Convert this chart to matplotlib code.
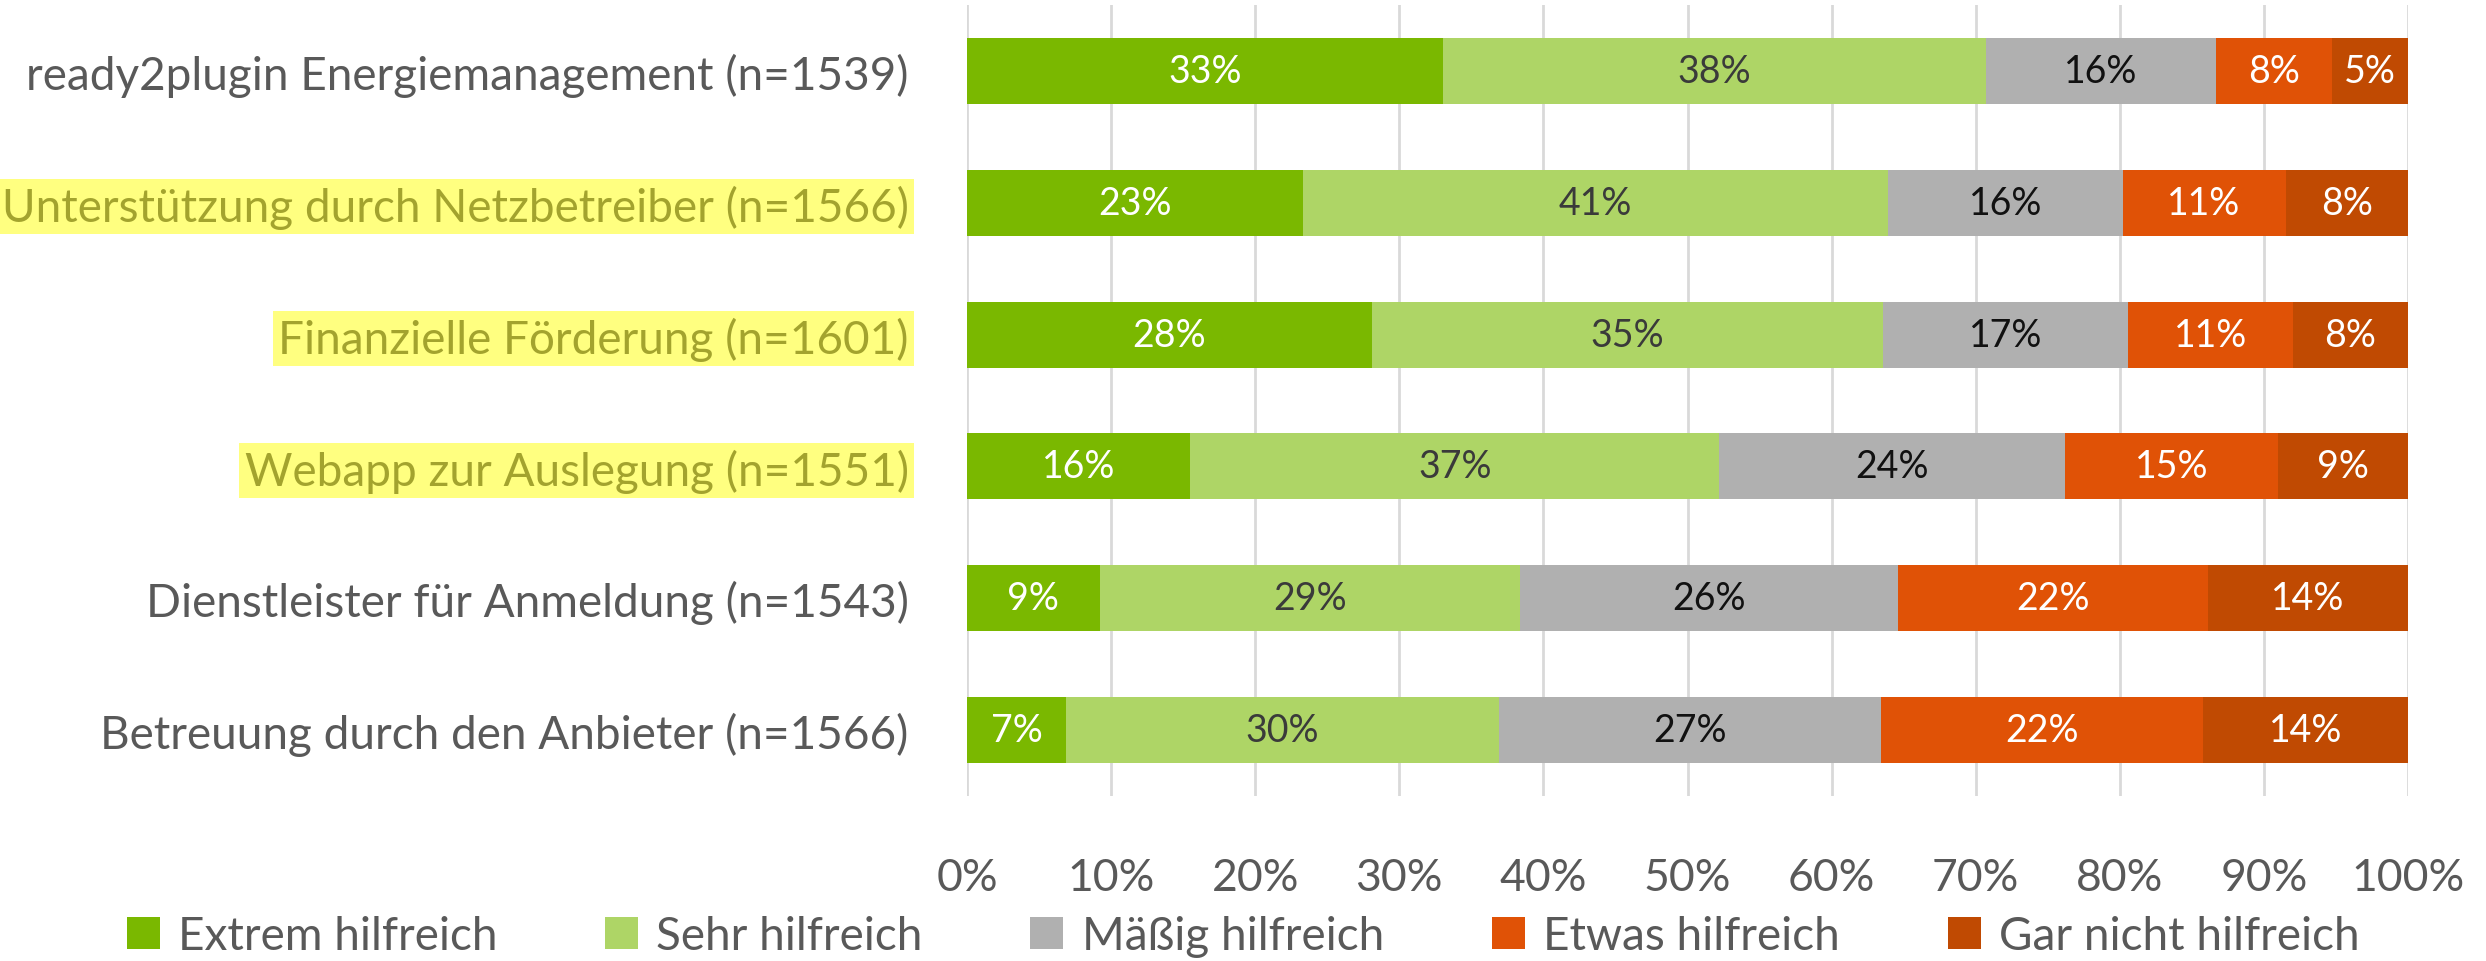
import matplotlib
matplotlib.use("Agg")
import matplotlib.pyplot as plt
from matplotlib.patches import Patch
import numpy as np

plt.rcParams['font.family'] = ['Lato', 'DejaVu Sans']

categories = [
    "ready2plugin Energiemanagement (n=1539)",
    "Unterstützung durch Netzbetreiber (n=1566)",
    "Finanzielle Förderung (n=1601)",
    "Webapp zur Auslegung (n=1551)",
    "Dienstleister für Anmeldung (n=1543)",
    "Betreuung durch den Anbieter (n=1566)",
]
highlighted = [False, True, True, True, False, False]
series_names = ["Extrem hilfreich", "Sehr hilfreich", "Mäßig hilfreich",
                "Etwas hilfreich", "Gar nicht hilfreich"]
extrem = [33.0, 23.3, 28.1, 15.5, 9.2, 6.9]
sehr = [37.7, 40.6, 35.5, 36.7, 29.2, 30.0]
maessig = [16.0, 16.3, 17.0, 24.0, 26.2, 26.5]
etwas = [8.0, 11.3, 11.4, 14.8, 21.5, 22.4]
gar_nicht = [5.3, 8.5, 8.0, 9.0, 13.9, 14.2]
shown_labels = [
    [33, 38, 16, 8, 5],
    [23, 41, 16, 11, 8],
    [28, 35, 17, 11, 8],
    [16, 37, 24, 15, 9],
    [9, 29, 26, 22, 14],
    [7, 30, 27, 22, 14],
]
x_ticks = [0, 10, 20, 30, 40, 50, 60, 70, 80, 90, 100]

colors = ["#7AB800", "#AED566", "#B0B0B0", "#E05206", "#C04A02"]
text_colors = ["white", "#3A3A3A", "#111111", "white", "white"]

fig = plt.figure(figsize=(24.86, 9.62), dpi=100)
ax = fig.add_axes([967/2486, 1-797/962, 1441/2486, 791/962])

series = [extrem, sehr, maessig, etwas, gar_nicht]
y = np.arange(len(categories))
left = np.zeros(len(categories))
for si, vals in enumerate(series):
    vals = np.array(vals)
    ax.barh(y, vals, left=left, height=0.5, color=colors[si], zorder=3)
    for i in range(len(categories)):
        ax.text(left[i] + vals[i]/2, y[i], f"{shown_labels[i][si]}%",
                ha='center', va='center', fontsize=27, color=text_colors[si], zorder=4)
    left += vals

ax.set_xlim(0, 100)
ax.set_ylim(len(categories)-0.5, -0.5)
ax.set_xticks(x_ticks)
ax.set_xticklabels([f"{t}%" for t in x_ticks])
ax.xaxis.grid(True, color="#D9D9D9", linewidth=2, zorder=0)
ax.set_yticks(y)
ax.set_yticklabels(categories)
for s in ax.spines.values():
    s.set_visible(False)
ax.tick_params(axis='x', length=0, pad=44, labelsize=32, labelcolor="#595959")
ax.tick_params(axis='y', length=0, pad=42, labelsize=33, labelcolor="#595959")
for lbl, hl in zip(ax.get_yticklabels(), highlighted):
    if hl:
        lbl.set_color("#A3A32E")
        lbl.set_bbox(dict(facecolor="#FFFF80", edgecolor="none", pad=4))

handles = [Patch(facecolor=c, edgecolor='none') for c in colors]
fig.legend(handles, series_names, loc='center', bbox_to_anchor=(0.5, 0.026),
           ncol=5, frameon=False, fontsize=33, labelcolor="#595959",
           handlelength=0.72, handleheight=0.72, handletextpad=0.4,
           columnspacing=2.35)

fig.savefig("out.png", dpi=100)
